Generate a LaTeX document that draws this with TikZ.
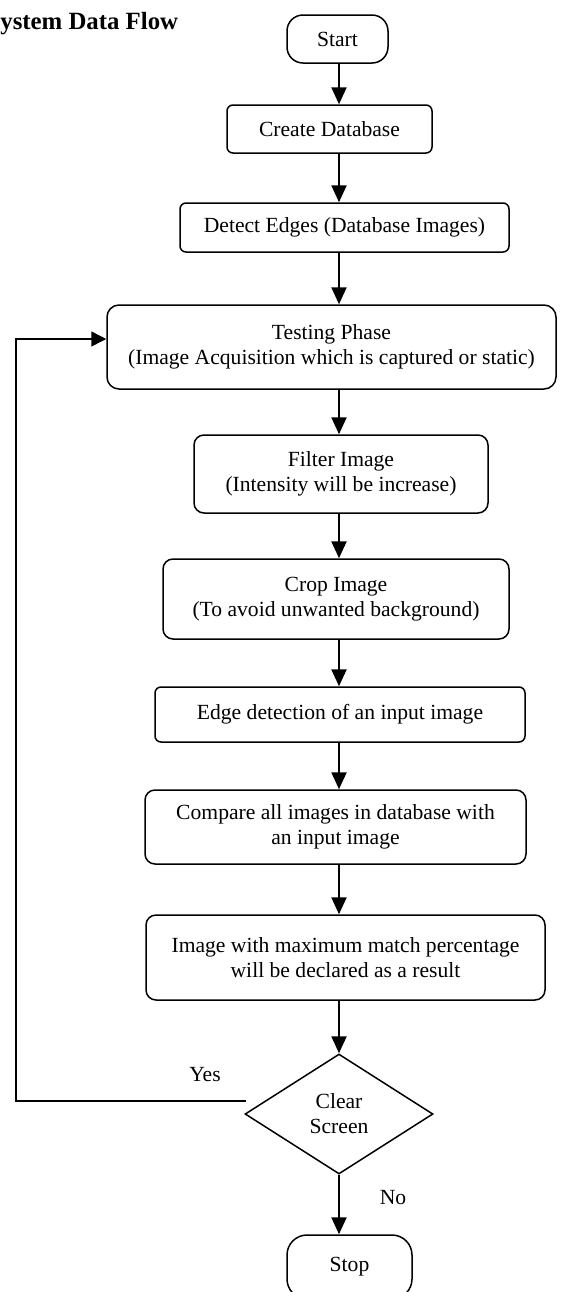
\documentclass[tikz,border=0pt]{standalone}
\usepackage{fontspec}
\setmainfont{Liberation Serif}
\usetikzlibrary{arrows.meta,shapes.geometric}
\begin{document}
\begin{tikzpicture}[x=0.5pt,y=-0.5pt,
  every node/.style={font=\fontsize{10.8}{12.5}\selectfont, inner sep=0pt, align=center},
  box/.style={draw, line width=0.75pt, rounded corners=3pt},
  box2/.style={draw, line width=0.75pt, rounded corners=5pt},
  term/.style={draw, line width=0.75pt, rounded corners=8pt},
  flow/.style={line width=1.2pt, -{Triangle[length=8.5pt,width=7.5pt]}},
  back/.style={line width=0.75pt, -{Triangle[length=7.5pt,width=7.5pt]}},
  decision/.style={draw, line width=0.75pt, diamond, aspect=1.567, minimum width=94pt, minimum height=60pt}
]
\useasboundingbox (0,0) rectangle (563,1292);
\node[anchor=base west, font=\fontsize{12.4}{14}\selectfont\bfseries] (title) at (0,29) {ystem Data Flow};

\node[term, minimum width=50.5pt, minimum height=24pt] (start) at (337.5,39) {Start};
\node[box, minimum width=102.5pt, minimum height=24pt] (create) at (329.5,129) {Create Database};
\node[box, minimum width=164.5pt, minimum height=24.5pt] (detect) at (344.5,227.5) {Detect Edges (Database Images)};
\node[box2, rounded corners=6pt, minimum width=224.5pt, minimum height=42pt] (test) at (331.5,347) {Testing Phase\\(Image Acquisition which is captured or static)};
\node[box2, minimum width=147pt, minimum height=39pt] (filter) at (341,474) {Filter Image\\(Intensity will be increase)};
\node[box2, minimum width=173pt, minimum height=40pt] (crop) at (336,599) {Crop Image\\(To avoid unwanted background)};
\node[box, minimum width=185pt, minimum height=27.5pt] (edge) at (340,714.5) {Edge detection of an input image};
\node[box2, minimum width=190.5pt, minimum height=37pt] (compare) at (335.5,827) {Compare all images in database with\\an input image};
\node[box2, minimum width=199.5pt, minimum height=42.5pt] (result) at (345.5,957.5) {Image with maximum match percentage\\will be declared as a result};
\node[decision] (dia) at (339,1114) {Clear\\Screen};
\node[term, rounded corners=10pt, minimum width=62.5pt, minimum height=32pt] (stop) at (349.5,1267) {Stop};

\node (yes) at (205,1075) {Yes};
\node (no) at (393,1198) {No};

\coordinate (spine) at (339,0);
\coordinate (loop) at (16,0);
\coordinate (yesend) at (246,1101);

\draw[flow] (start.south -| spine) -- (create.north -| spine);
\draw[flow] (create.south -| spine) -- (detect.north -| spine);
\draw[flow] (detect.south -| spine) -- (test.north -| spine);
\draw[flow] (test.south -| spine) -- (filter.north -| spine);
\draw[flow] (filter.south -| spine) -- (crop.north -| spine);
\draw[flow] (crop.south -| spine) -- (edge.north -| spine);
\draw[flow] (edge.south -| spine) -- (compare.north -| spine);
\draw[flow] (compare.south -| spine) -- (result.north -| spine);
\draw[flow] (result.south -| spine) -- (dia.north);
\draw[flow] (dia.south) -- (stop.north -| spine);
\draw[back] (yesend) -- (yesend -| loop) |- ([yshift=4pt]test.west);
\end{tikzpicture}
\end{document}
